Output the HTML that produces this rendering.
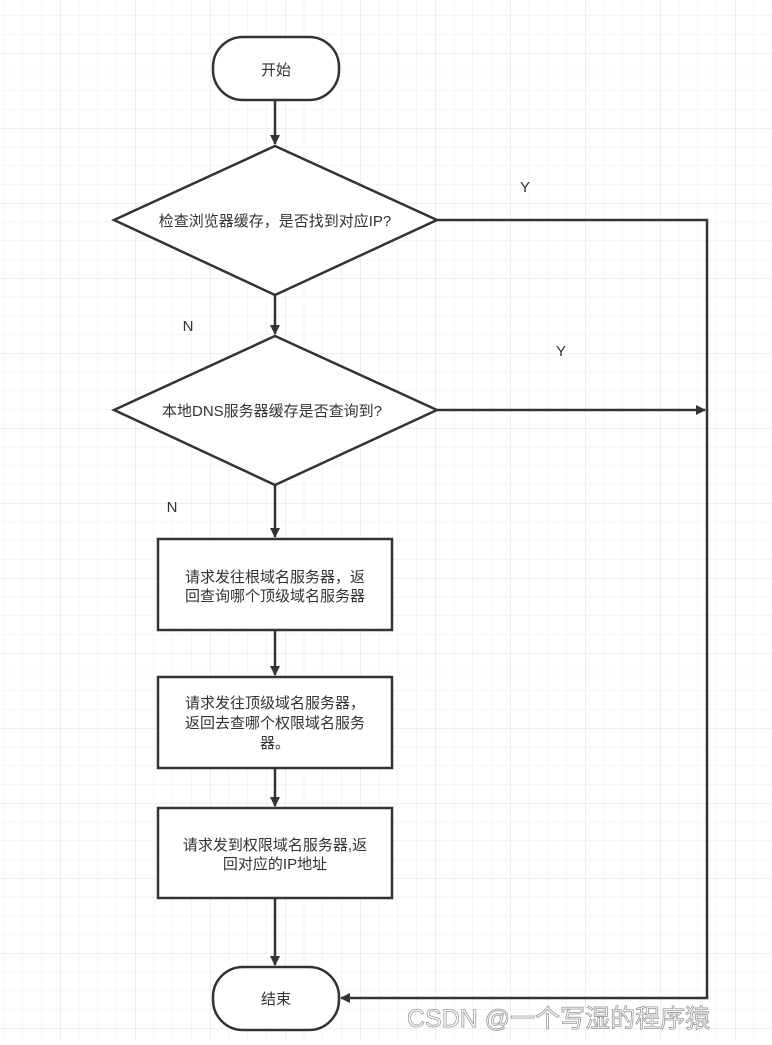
<!DOCTYPE html>
<html><head><meta charset="utf-8"><style>
html,body{margin:0;padding:0;background:#fff}
</style></head><body>
<svg width="772" height="1040" xmlns="http://www.w3.org/2000/svg" font-family="Liberation Sans, Noto Sans CJK SC, sans-serif">
<defs>
<pattern id="minor" x="3.75" y="15.5" width="18.75" height="18.75" patternUnits="userSpaceOnUse"><path d="M0 0H18.75M0 0V18.75" stroke="#ececec" stroke-width="1" fill="none"/></pattern>
<pattern id="major" x="60" y="53" width="75" height="75" patternUnits="userSpaceOnUse"><path d="M0 0H75M0 0V75" stroke="#dedede" stroke-width="1" fill="none"/></pattern>
<marker id="ah" markerWidth="10" markerHeight="10" refX="9" refY="5" orient="auto" markerUnits="userSpaceOnUse"><path d="M0 0L10 5L0 10Z" fill="#333"/></marker>
</defs>
<rect width="772" height="1040" fill="url(#minor)"/>
<rect width="772" height="1040" fill="url(#major)"/>
<g stroke="#333" stroke-width="2.5" fill="#fff">
<rect x="213" y="37" width="126" height="63" rx="30"/>
<path d="M275 146L437 220L275 295L114 220Z"/>
<path d="M275 336L437 410L275 485L114 410Z"/>
<rect x="158" y="539" width="234" height="91"/>
<rect x="158" y="677" width="234" height="91"/>
<rect x="158" y="808" width="234" height="90"/>
<rect x="213" y="967" width="126" height="63" rx="30"/>
</g>
<g stroke="#333" stroke-width="2.5" fill="none" marker-end="url(#ah)">
<path d="M275 100V144"/>
<path d="M275 295V334"/>
<path d="M275 485V537"/>
<path d="M275 630V675"/>
<path d="M275 768V806"/>
<path d="M275 898V965"/>
<path d="M437 410H705"/>
<path d="M437 220H707V998H341"/>
</g>
<g font-size="15" fill="#333" text-anchor="middle">
<text x="276" y="75">开始</text>
<text x="275" y="226">检查浏览器缓存，是否找到对应IP?</text>
<text x="272" y="416">本地DNS服务器缓存是否查询到?</text>
<text x="275" y="582">请求发往根域名服务器，返</text>
<text x="275" y="601">回查询哪个顶级域名服务器</text>
<text x="275" y="708">请求发往顶级域名服务器，</text>
<text x="275" y="728">返回去查哪个权限域名服务</text>
<text x="275" y="748">器。</text>
<text x="275" y="850">请求发到权限域名服务器,返</text>
<text x="275" y="869">回对应的IP地址</text>
<text x="276" y="1004">结束</text>
<text x="525" y="192">Y</text>
<text x="561" y="356">Y</text>
<text x="188" y="331">N</text>
<text x="172" y="512">N</text>
</g>
<text x="407" y="1027" font-size="25" fill="#fff" stroke="#999" stroke-width="0.8">CSDN @一个写湿的程序猿</text>
</svg>
</body></html>
